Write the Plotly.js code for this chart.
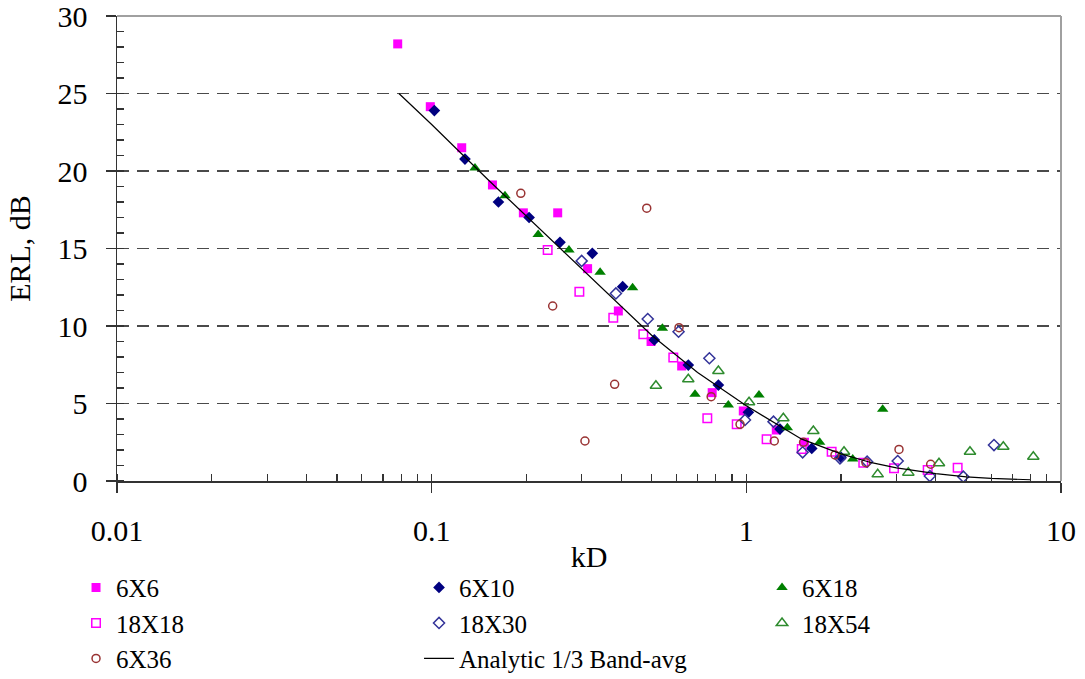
<!DOCTYPE html>
<html>
<head>
<meta charset="utf-8">
<script src="https://cdn.plot.ly/plotly-3.0.1.min.js"></script>
<style>html,body{margin:0;padding:0;background:#fff}#chart{width:1085px;height:679px}</style>
</head>
<body>
<div id="chart"></div>
<script>
// ---- data ----
const x6x6 = [0.078,0.099,0.1246,0.156,0.1956,0.2515,0.313,0.392,0.498,0.623,0.779,0.978,1.245,1.53];
const y6x6 = [28.2,24.15,21.5,19.1,17.3,17.3,13.7,10.97,9.0,7.42,5.7,4.52,3.29,2.5];

const x6x10 = [0.102,0.1276,0.163,0.204,0.2557,0.324,0.4046,0.51,0.654,0.815,1.015,1.279,1.614,2.0];
const y6x10 = [23.9,20.77,18.0,17.0,15.4,14.69,12.54,9.1,7.48,6.19,4.43,3.35,2.1,1.53];

const x6x18 = [0.1373,0.171,0.218,0.2731,0.343,0.435,0.541,0.687,0.8766,1.097,1.35,1.71,2.178,2.712];
const y6x18 = [20.2,18.4,15.9,14.9,13.46,12.47,9.85,5.6,4.9,5.55,3.44,2.5,1.42,4.63];

const x18x18 = [0.2337,0.2947,0.3777,0.4706,0.586,0.7516,0.932,1.16,1.5,1.867,2.353,2.947,3.77,4.694];
const y18x18 = [14.9,12.21,10.54,9.46,7.96,4.05,3.66,2.69,2.06,1.89,1.18,0.82,0.71,0.86];

const x18x30 = [0.2997,0.385,0.486,0.609,0.763,0.99,1.22,1.51,1.984,2.42,3.027,3.83,4.893,6.124];
const y18x30 = [14.2,12.1,10.45,9.63,7.92,3.94,3.83,1.85,1.46,1.25,1.29,0.32,0.28,2.32];

const x18x54 = [0.516,0.654,0.815,1.02,1.311,1.633,2.044,2.615,3.272,4.095,5.137,6.556,8.166];
const y18x54 = [6.15,6.56,7.1,5.08,4.05,3.23,1.89,0.43,0.54,1.14,1.89,2.21,1.57];

const x6x36 = [0.192,0.2424,0.307,0.3815,0.4825,0.611,0.773,0.955,1.227,1.52,1.913,2.4,3.056,3.853];
const y6x36 = [18.56,11.29,2.58,6.24,17.6,9.89,5.44,3.66,2.58,2.5,1.68,1.18,2.04,1.08];

const xAnalytic = [0.0787,0.1,0.15,0.2,0.28,0.4,0.5,0.7,1.0,1.5,2,2.5,3,4,5,6,8];
const yAnalytic = [25.0,23.0,19.5,17.1,14.25,11.3,9.4,7.0,4.85,2.7,1.75,1.18,0.85,0.48,0.27,0.17,0.08];

const xTickVals = [0.01,0.1,1,10];
const xTickText = ['0.01','0.1','1','10'];
const yTickVals = [0,5,10,15,20,25,30];

// ---- chart ----
const FONT = 'Liberation Serif, Times New Roman, serif';
function pts(name, x, y, symbol, color, size, open) {
  return {
    type: 'scatter', mode: 'markers', name: name, x: x, y: y,
    marker: open
      ? {symbol: symbol + '-open', size: size, color: color, line: {color: color, width: 1.5}}
      : {symbol: symbol, size: size, color: color, line: {width: 0}}
  };
}
const traces = [
  pts('6X6', x6x6, y6x6, 'square', '#FF00FF', 9, false),
  pts('6X10', x6x10, y6x10, 'diamond', '#000080', 9, false),
  pts('6X18', x6x18, y6x18, 'triangle-up', '#008000', 10, false),
  pts('18X18', x18x18, y18x18, 'square', '#FF00FF', 8.5, true),
  pts('18X30', x18x30, y18x30, 'diamond', '#333399', 8.5, true),
  pts('18X54', x18x54, y18x54, 'triangle-up', '#2E8B2E', 10, true),
  pts('6X36', x6x36, y6x36, 'circle', '#993333', 8, true),
  {type: 'scatter', mode: 'lines', name: 'Analytic 1/3 Band-avg', x: xAnalytic, y: yAnalytic,
   line: {color: '#000000', width: 1.2}}
];

const layout = {
  width: 1085, height: 679,
  margin: {l: 117, r: 24, t: 16, b: 198, autoexpand: false},
  paper_bgcolor: '#ffffff', plot_bgcolor: '#ffffff',
  font: {family: FONT, size: 30, color: '#000'},
  showlegend: true,
  xaxis: {
    type: 'log', range: [-2, 1], automargin: false,
    tickvals: xTickVals, ticktext: xTickText,
    ticks: 'outside', ticklen: 10, tickwidth: 1.5, tickcolor: '#333',
    ticklabelstandoff: 12, ticklabeloverflow: 'allow',
    minor: {dtick: 'D1', ticks: 'inside', ticklen: 7, tickwidth: 1.2, tickcolor: '#333', showgrid: false},
    showline: true, linecolor: '#333', linewidth: 1.5,
    showgrid: false, zeroline: false,
    tickfont: {family: FONT, size: 30},
    title: {text: 'kD', font: {family: FONT, size: 30}, standoff: 0}
  },
  yaxis: {
    range: [0, 30], tickvals: yTickVals, automargin: false,
    ticks: 'outside', ticklen: 10, tickwidth: 1.5, tickcolor: '#333',
    ticklabelstandoff: 12, ticklabeloverflow: 'allow',
    minor: {dtick: 1, ticks: 'inside', ticklen: 7, tickwidth: 1.2, tickcolor: '#333', showgrid: false},
    showline: true, linecolor: '#333', linewidth: 1.5,
    showgrid: true, gridcolor: '#4a4a4a', gridwidth: 1.6, griddash: '12px,8px',
    zeroline: false,
    tickfont: {family: FONT, size: 30},
    title: {text: 'ERL, dB', font: {family: FONT, size: 30}, standoff: 18}
  },
  legend: {
    orientation: 'h', x: -0.0434, xanchor: 'left', y: -0.18, yanchor: 'top',
    entrywidth: 298, entrywidthmode: 'pixels',
    font: {family: FONT, size: 25, color: '#000'},
    bgcolor: 'rgba(0,0,0,0)', borderwidth: 0, itemsizing: 'trace', traceorder: 'normal'
  },
  shapes: [
    {type: 'line', xref: 'paper', yref: 'paper', x0: 0, x1: 1, y0: 1, y1: 1, line: {color: '#A0A0A0', width: 2}, layer: 'above'},
    {type: 'line', xref: 'paper', yref: 'paper', x0: 1, x1: 1, y0: 0, y1: 1, line: {color: '#A0A0A0', width: 2}, layer: 'above'}
  ]
};

Plotly.newPlot('chart', traces, layout, {displayModeBar: false, staticPlot: true});
</script>
</body>
</html>
